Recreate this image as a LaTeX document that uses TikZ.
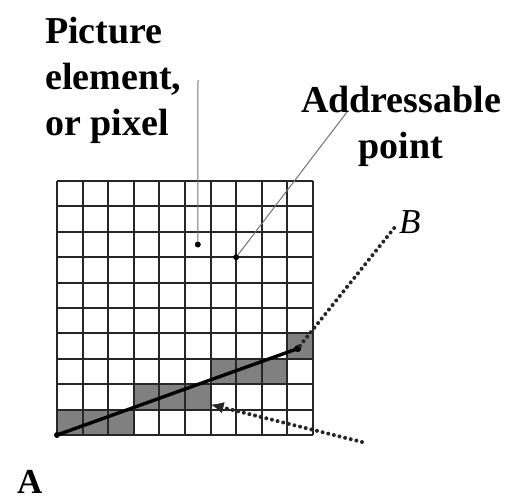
\documentclass[tikz,border=0pt]{standalone}
\usepackage{fontspec}
\setmainfont{Liberation Serif}
\usetikzlibrary{arrows.meta}
\begin{document}
\begin{tikzpicture}[x=1pt, y=-1pt]
    \tikzset{labeltext/.style={font=\bfseries\fontsize{38}{46}\selectfont, inner sep=0pt},
             leader/.style={draw=black!55, line width=1pt},
             dotline/.style={line width=4pt, dash pattern=on 0pt off 5.8pt, line cap=round, black!85},
             cell/.style={fill=black!50},
             dot/.style={circle, fill=black, inner sep=0pt, minimum size=6pt}}
    \useasboundingbox (0,0) rectangle (506,503);
    % the pixel grid, counted from the lower left corner
    \begin{scope}[shift={(57,435)}, x=25.6pt, y=25.4pt]
        \foreach \c/\r in {0/0,1/0,2/0,3/1,4/1,5/1,6/2,7/2,8/2,9/3}
            \fill[cell] (\c,\r) rectangle ++(1,1);
        \foreach \k in {0,...,10} {
            \draw[line width=2pt, black!85] (\k,0) -- (\k,10);
            \draw[line width=2pt, black!85] (0,\k) -- (10,\k);
        }
        \coordinate (A) at (0,0);
        \coordinate (P) at (9.4,3.4);
        \coordinate (pix) at (5.5,7.5);
        \coordinate (addr) at (7,7);
        \coordinate (tip) at (6,1.2);
    \end{scope}
    % labels
    \node[labeltext, align=left, anchor=north west] (pixlabel) at (45,17) {Picture\\element,\\or pixel};
    \node[labeltext, align=center, anchor=north] (addrlabel) at (401,86) {Addressable\\point};
    \node[font=\itshape\fontsize{35}{40}\selectfont, inner sep=0pt, anchor=west] (B) at (399,222) {B};
    \node[font=\bfseries\fontsize{35}{40}\selectfont, inner sep=0pt, anchor=north west] (Alabel) at (17,470) {A};
    \coordinate (pixend) at (198,80);
    \coordinate (addrend) at (347,112);
    \coordinate (tail) at (362,442);
    % dots and leaders
    \node[dot] (pixdot) at (pix) {};
    \node[dot] (addrdot) at (addr) {};
    \node[dot] (Adot) at (A) {};
    \node[dot, minimum size=7pt] (Pdot) at (P) {};
    \draw[leader] (pixend) -- (pixdot);
    \draw[leader] (addrend) -- (addrdot);
    % the line and its continuation
    \draw[line width=3.4pt] (Adot.center) -- (Pdot.center);
    \draw[dotline, shorten >=6pt] (Pdot) -- (B.west);
    \draw[dotline, -{Latex[length=13pt, width=12pt]}] (tail) -- (tip);
\end{tikzpicture}
\end{document}
